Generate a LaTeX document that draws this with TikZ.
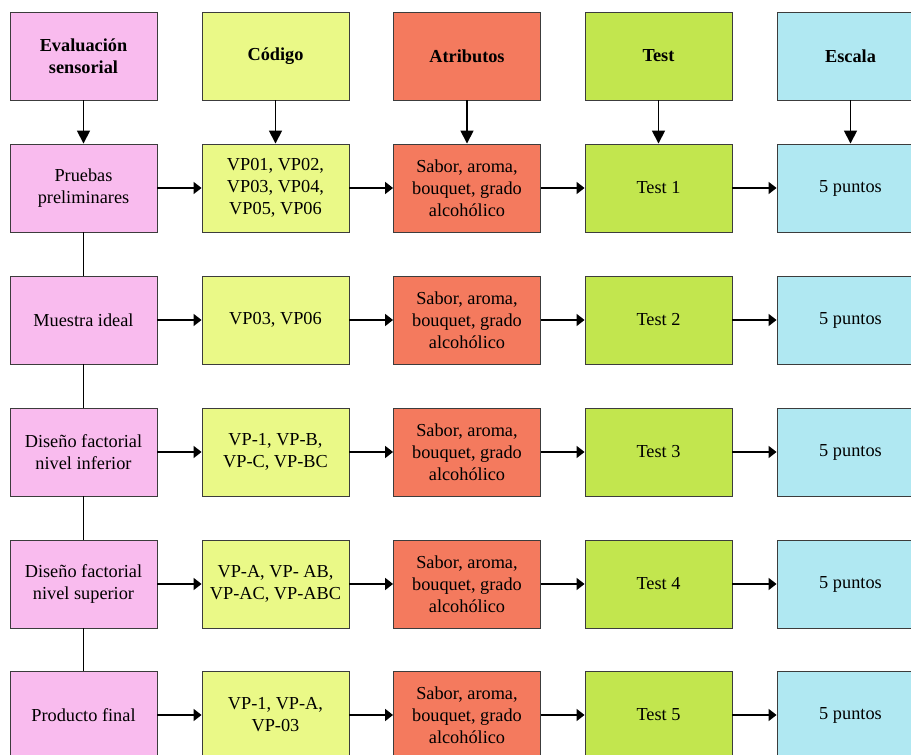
\documentclass[tikz,border=0pt]{standalone}
\usepackage{fontspec}
\setmainfont{Liberation Serif}
\usetikzlibrary{arrows.meta}
\definecolor{cpink}{RGB}{249,187,238}
\definecolor{cyel}{RGB}{234,249,135}
\definecolor{csal}{RGB}{244,122,94}
\definecolor{cgrn}{RGB}{194,230,78}
\definecolor{cblu}{RGB}{176,232,242}
\definecolor{cedge}{RGB}{60,60,60}
\tikzset{
  box/.style={draw=cedge, line width=0.9pt, minimum width=147pt, minimum height=88pt,
    inner sep=0pt, align=center, font=\fontsize{18.3}{22}\selectfont},
  head/.style={box, font=\fontsize{18.3}{22}\selectfont\bfseries},
  harrow/.style={line width=1.7pt, -{Triangle[length=8pt,width=12pt]}},
  varrow/.style={line width=1.7pt, -{Triangle[length=13pt,width=13pt]}},
  link/.style={line width=1.7pt},
}
\begin{document}
\begin{tikzpicture}[x=1pt,y=1pt]
\useasboundingbox (0,0) rectangle (911,755);
% column centres: 83.5, 275.5, 467, 658.5, 850.5
% row centres (from top): 56, 188, 320, 452, 584, 715
\node[head, fill=cpink] (h1) at (83.5,699) {Evaluación\\sensorial};
\node[head, fill=cyel]  (h2) at (275.5,699) {Código};
\node[head, fill=csal]  (h3) at (467,699) {Atributos};
\node[head, fill=cgrn]  (h4) at (658.5,699) {Test};
\node[head, fill=cblu]  (h5) at (850.5,699) {Escala};

\node[box, fill=cpink] (a1) at (83.5,567) {Pruebas\\preliminares};
\node[box, fill=cyel]  (b1) at (275.5,567) {VP01, VP02,\\VP03, VP04,\\VP05, VP06};
\node[box, fill=csal]  (c1) at (467,567) {Sabor, aroma,\\bouquet, grado\\alcohólico};
\node[box, fill=cgrn]  (d1) at (658.5,567) {Test 1};
\node[box, fill=cblu]  (e1) at (850.5,567) {5 puntos};

\node[box, fill=cpink] (a2) at (83.5,435) {Muestra ideal};
\node[box, fill=cyel]  (b2) at (275.5,435) {VP03, VP06};
\node[box, fill=csal]  (c2) at (467,435) {Sabor, aroma,\\bouquet, grado\\alcohólico};
\node[box, fill=cgrn]  (d2) at (658.5,435) {Test 2};
\node[box, fill=cblu]  (e2) at (850.5,435) {5 puntos};

\node[box, fill=cpink] (a3) at (83.5,303) {Diseño factorial\\nivel inferior};
\node[box, fill=cyel]  (b3) at (275.5,303) {VP-1, VP-B,\\VP-C, VP-BC};
\node[box, fill=csal]  (c3) at (467,303) {Sabor, aroma,\\bouquet, grado\\alcohólico};
\node[box, fill=cgrn]  (d3) at (658.5,303) {Test 3};
\node[box, fill=cblu]  (e3) at (850.5,303) {5 puntos};

\node[box, fill=cpink] (a4) at (83.5,171) {Diseño factorial\\nivel superior};
\node[box, fill=cyel]  (b4) at (275.5,171) {VP-A, VP- AB,\\VP-AC, VP-ABC};
\node[box, fill=csal]  (c4) at (467,171) {Sabor, aroma,\\bouquet, grado\\alcohólico};
\node[box, fill=cgrn]  (d4) at (658.5,171) {Test 4};
\node[box, fill=cblu]  (e4) at (850.5,171) {5 puntos};

\node[box, fill=cpink] (a5) at (83.5,40) {Producto final};
\node[box, fill=cyel]  (b5) at (275.5,40) {VP-1, VP-A,\\VP-03};
\node[box, fill=csal]  (c5) at (467,40) {Sabor, aroma,\\bouquet, grado\\alcohólico};
\node[box, fill=cgrn]  (d5) at (658.5,40) {Test 5};
\node[box, fill=cblu]  (e5) at (850.5,40) {5 puntos};

% headers feed the first row
\draw[varrow] (h1) -- (a1);
\draw[varrow] (h2) -- (b1);
\draw[varrow] (h3) -- (c1);
\draw[varrow] (h4) -- (d1);
\draw[varrow] (h5) -- (e1);

% stages chained down the first column
\draw[link] (a1) -- (a2);
\draw[link] (a2) -- (a3);
\draw[link] (a3) -- (a4);
\draw[link] (a4) -- (a5);

% each row flows left to right
\foreach \r in {1,...,5}{
  \draw[harrow] (a\r) -- (b\r);
  \draw[harrow] (b\r) -- (c\r);
  \draw[harrow] (c\r) -- (d\r);
  \draw[harrow] (d\r) -- (e\r);
}
\end{tikzpicture}
\end{document}
